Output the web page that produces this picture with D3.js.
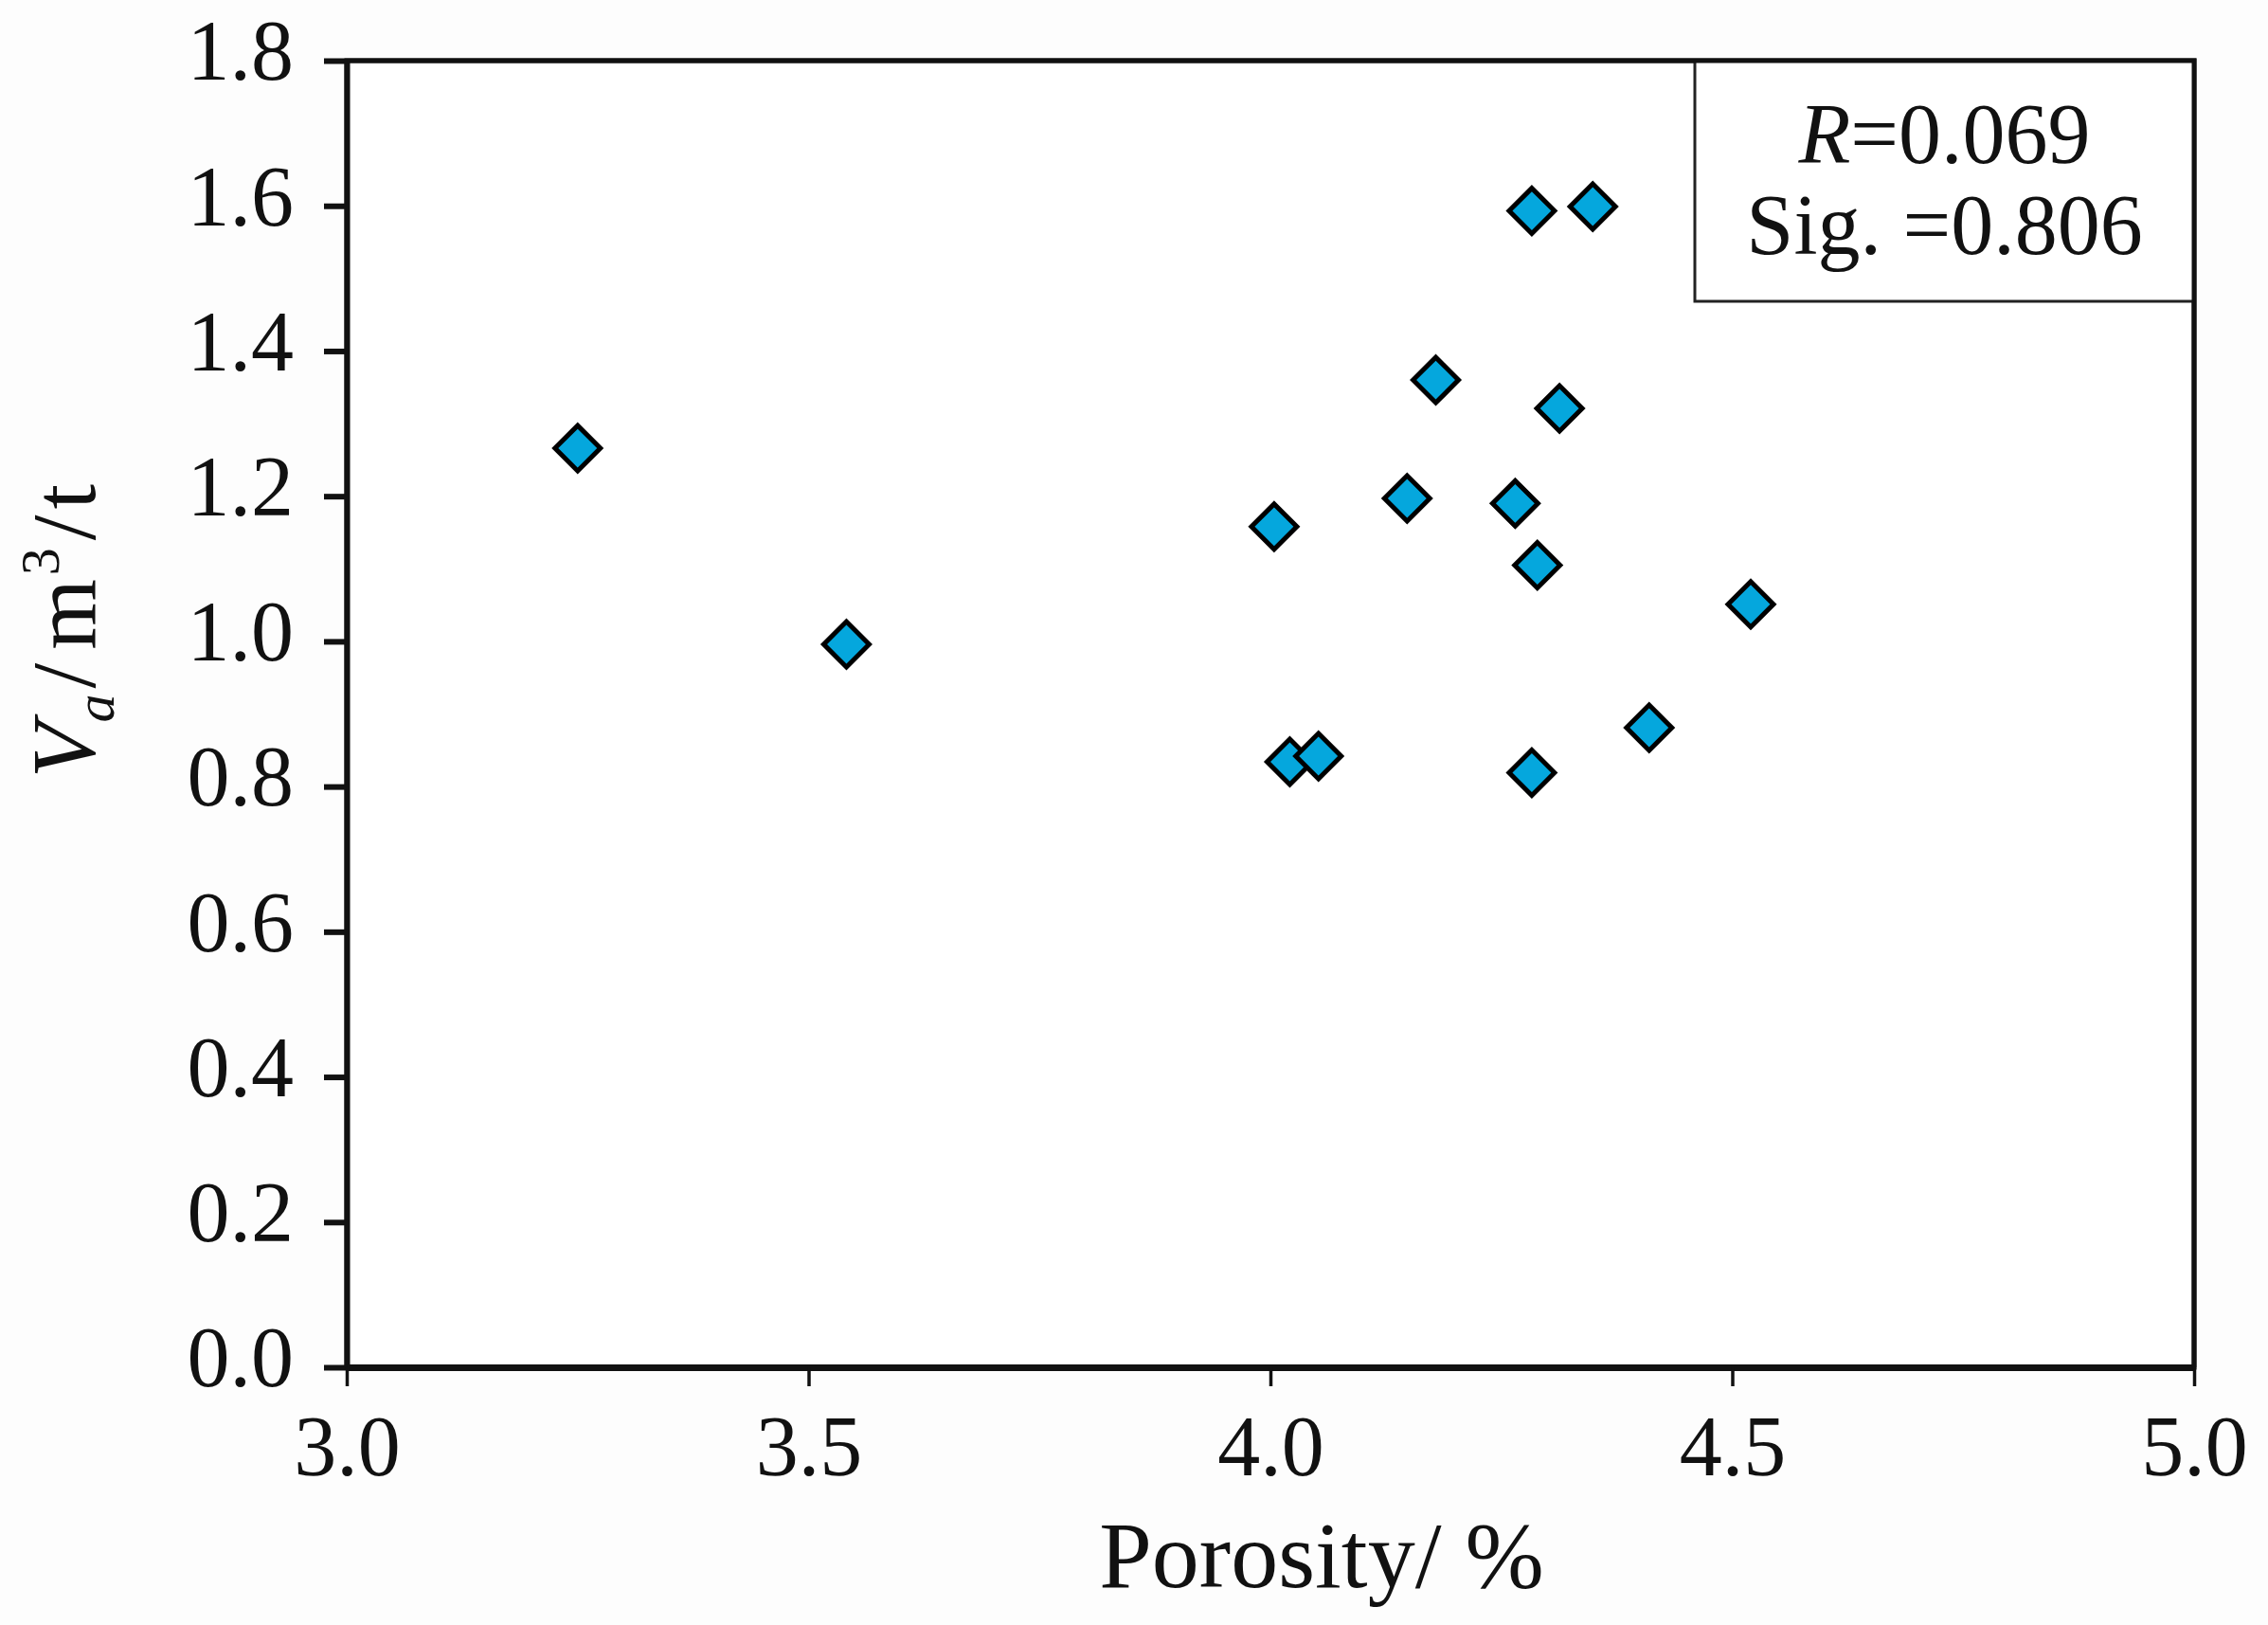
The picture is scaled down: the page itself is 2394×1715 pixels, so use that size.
<!DOCTYPE html>
<html>
<head>
<meta charset="utf-8">
<script src="https://cdn.jsdelivr.net/npm/d3@7"></script>
<style>
  body { margin: 0; background: #fff; }
  svg text { font-family: "Liberation Serif", "Times New Roman", serif; fill: #111; }
</style>
</head>
<body>
<div id="chart"></div>
<script>
// porosity (%) and Va (m3/t)
const porosity = [3.25, 3.541, 4.004, 4.021, 4.052, 4.148, 4.179, 4.265, 4.283, 4.349, 4.313, 4.289, 4.283, 4.410, 4.520];
const va       = [1.266, 0.996, 1.158, 0.834, 0.842, 1.197, 1.360, 1.190, 1.593, 1.599, 1.321, 1.105, 0.819, 0.881, 1.051];
const xTicks = [3.0, 3.5, 4.0, 4.5, 5.0];
const yTicks = [0.0, 0.2, 0.4, 0.6, 0.8, 1.0, 1.2, 1.4, 1.6, 1.8];
const statLines = [["R", "=0.069"], ["Sig. ", "=0.806"]];

const width = 2394;
const height = 1715;
const margin = { top: 64, right: 78, bottom: 272, left: 366 };

const data = porosity.map((p, i) => ({ x: p, y: va[i] }));

const xScale = d3.scaleLinear()
    .domain([3, 5])
    .range([margin.left, width - margin.right]);

const yScale = d3.scaleLinear()
    .domain([0, 1.8])
    .range([height - margin.bottom, margin.top]);

const svg = d3.select("#chart")
    .append("svg")
    .attr("width", width)
    .attr("height", height);

svg.append("rect")
    .attr("width", width)
    .attr("height", height)
    .attr("fill", "#fdfdfd");

// plot frame
svg.append("rect")
    .attr("x", xScale(3))
    .attr("y", yScale(1.8))
    .attr("width", xScale(5) - xScale(3))
    .attr("height", yScale(0) - yScale(1.8))
    .attr("fill", "#fff")
    .attr("stroke", "#111")
    .attr("stroke-width", 5);

// y axis
const yAxis = svg.append("g")
    .attr("transform", `translate(${xScale(3)},0)`)
    .call(d3.axisLeft(yScale).tickValues(yTicks).tickFormat(d3.format(".1f")).tickSize(24).tickPadding(32).tickSizeOuter(0))
yAxis.select(".domain").attr("stroke-width", 6).attr("stroke", "#111")
yAxis.selectAll(".tick line").attr("stroke-width", 6).attr("stroke", "#111")
yAxis.selectAll(".tick text")
    .attr("font-size", 90)
    .attr("dy", "0.22em")
    .attr("fill", "#111")

// x axis
const xAxis = svg.append("g")
    .attr("transform", `translate(0,${yScale(0)})`)
    .call(d3.axisBottom(xScale).tickValues(xTicks).tickFormat(d3.format(".1f")).tickSize(20).tickPadding(30).tickSizeOuter(0))
xAxis.select(".domain").attr("stroke-width", 7).attr("stroke", "#111")
xAxis.selectAll(".tick line").attr("stroke-width", 3.5).attr("stroke", "#111")
xAxis.selectAll(".tick text")
    .attr("font-size", 90)
    .attr("fill", "#111")

// axis titles
svg.append("text")
    .attr("x", 1395)
    .attr("y", 1675)
    .attr("text-anchor", "middle")
    .attr("font-size", 100)
    .text("Porosity/ %")

const yLabel = svg.append("text")
    .attr("transform", "translate(100,666) rotate(-90)")
    .attr("text-anchor", "middle")
    .attr("font-size", 96)
yLabel.append("tspan").attr("font-style", "italic").text("V")
yLabel.append("tspan").attr("font-style", "italic").attr("font-size", 60).attr("dy", 20).text("a")
yLabel.append("tspan").attr("dy", -20).attr("dx", 6).text("/")
yLabel.append("tspan").attr("dx", 14).text("m")
yLabel.append("tspan").attr("font-size", 58).attr("dy", -38).attr("dx", 4).text("3")
yLabel.append("tspan").attr("dy", 38).attr("dx", 8).text("/")
yLabel.append("tspan").attr("dx", 6).text("t")

// points
svg.append("g")
    .selectAll("path")
    .data(data)
    .join("path")
    .attr("transform", d => `translate(${xScale(d.x)},${yScale(d.y)}) rotate(45)`)
    .attr("d", d3.symbol(d3.symbolSquare, 1150))
    .attr("fill", "#05a7dd")
    .attr("stroke", "#000")
    .attr("stroke-width", 5)

// stats box
const boxLeft = 1789;
const boxBottom = 318;
svg.append("rect")
    .attr("x", boxLeft)
    .attr("y", yScale(1.8))
    .attr("width", xScale(5) - boxLeft)
    .attr("height", boxBottom - yScale(1.8))
    .attr("fill", "#fff")
    .attr("stroke", "#222")
    .attr("stroke-width", 3)

const boxCx = (boxLeft + xScale(5)) / 2;
statLines.forEach((s, i) => {
    const t = svg.append("text")
        .attr("x", boxCx)
        .attr("y", 172 + i * 96)
        .attr("text-anchor", "middle")
        .attr("font-size", 90)
    t.append("tspan").attr("font-style", i === 0 ? "italic" : "normal").text(s[0])
    t.append("tspan").text(s[1])
})

// redraw frame edges on top
svg.append("path")
    .attr("d", `M${xScale(3)},${yScale(1.8)}H${xScale(5)}V${yScale(0)}`)
    .attr("fill", "none")
    .attr("stroke", "#111")
    .attr("stroke-width", 5)
</script>
</body>
</html>
